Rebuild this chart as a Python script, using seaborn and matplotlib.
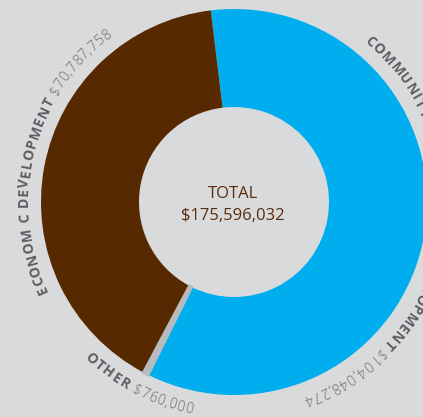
import numpy as np
import matplotlib
matplotlib.use("Agg")
import matplotlib.pyplot as plt
from matplotlib.font_manager import FontProperties, findfont, get_font
import seaborn as sns

# ---- data ----
categories = ["COMMUNITY DEVELOPMENT", "OTHER", "ECONOM C DEVELOPMENT"]
values = [104048274, 760000, 70787758]
value_labels = ["$104,048,274", "$760,000", "$70,787,758"]
total_title = "TOTAL"
total_label = "$175,596,032"
colors = ["#00adee", "#b9babd", "#562900"]

BG = "#d9dadc"
NAME_C = "#5d5e61"
VAL_C = "#6e6f72"

sns.set_theme(style="white", rc={"axes.facecolor": BG, "figure.facecolor": BG})
plt.rcParams['font.family'] = ['Open Sans', 'DejaVu Sans']

W, H = 423, 417
DPI = 100
fig = plt.figure(figsize=(W / DPI, H / DPI), dpi=DPI)
ax = fig.add_axes([0, 0, 1, 1])
cx, cy = 234, 215
R, ring = 193, 98

wedges, _ = ax.pie(values, colors=colors, startangle=96.9, counterclock=False,
                   center=(cx, cy), radius=R,
                   wedgeprops=dict(width=ring, linewidth=0))
# the small "other" slice carries a thin outline of its own colour
wedges[1].set_edgecolor(colors[1])
wedges[1].set_linewidth(2.0)
wedges[1].set_zorder(3)
ax.set_xlim(0, W)
ax.set_ylim(0, H)
ax.set_aspect('auto')
ax.axis('off')

FAM = ['Open Sans', 'DejaVu Sans']
name_fp = dict(weight='bold', size=10, color=NAME_C, track=1.1)
val_fp = dict(weight='light', size=10, color=VAL_C, track=0.7)


def metrics(ch, p):
    fnt = get_font(findfont(FontProperties(family='Open Sans', weight=p['weight'])))
    fnt.set_size(p['size'], DPI)
    g = fnt.load_char(ord(ch))
    advance = g.linearHoriAdvance / 65536
    ink_c = g.horiBearingX / 64 + g.width / 64 / 2
    return advance + p['track'], ink_c - advance / 2


def arc_text(segments, angle, radius, clockwise, anchor="center"):
    chars = []
    for text, p in segments:
        for ch in text:
            w, off = metrics(ch, p)
            chars.append((ch, p, w, off))
    total = sum(c[2] for c in chars)
    tot_ang = np.degrees(total / radius)
    sign = -1 if clockwise else 1
    if anchor == "center":
        a = angle - sign * tot_ang / 2
    elif anchor == "start":
        a = angle
    else:
        a = angle - sign * tot_ang
    rb = radius - 5 if clockwise else radius + 5
    for ch, p, w, off in chars:
        ac = a + sign * np.degrees((w / 2 + off) / radius)
        rot = ac - 90 if clockwise else ac + 90
        x = cx + rb * np.cos(np.radians(ac))
        y = cy + rb * np.sin(np.radians(ac))
        if ch.strip():
            ax.text(x, y, ch, rotation=rot, rotation_mode='anchor', ha='center',
                    va='baseline', fontfamily=FAM, fontweight=p['weight'],
                    fontsize=p['size'], color=p['color'])
        a += sign * np.degrees(w / radius)


LR = 211
# community development (right side, clockwise, partly off-canvas)
name0 = categories[0].split(" ")
arc_text([(name0[0], name_fp)], 51, LR, True, anchor="start")
arc_text([(" ".join(name0[1:]) + " ", name_fp), (value_labels[0], val_fp)], -70.5, LR, True, anchor="end")
# other (bottom, counterclockwise, tops inward)
arc_text([(categories[1] + " ", name_fp), (value_labels[1], val_fp)], 242.5, LR, False)
# economic development (left, clockwise)
arc_text([(categories[2] + " ", name_fp), (value_labels[2], val_fp)], 166, LR, True)

ax.text(cx - 1, cy + 8, total_title, ha='center', va='center', fontsize=12,
        color="#5a2d0c", fontfamily=FAM)
ax.text(cx - 1, cy - 14, total_label, ha='center', va='center', fontsize=12,
        color="#5a2d0c", fontfamily=FAM)

fig.savefig("out.png", dpi=DPI, facecolor=BG)
